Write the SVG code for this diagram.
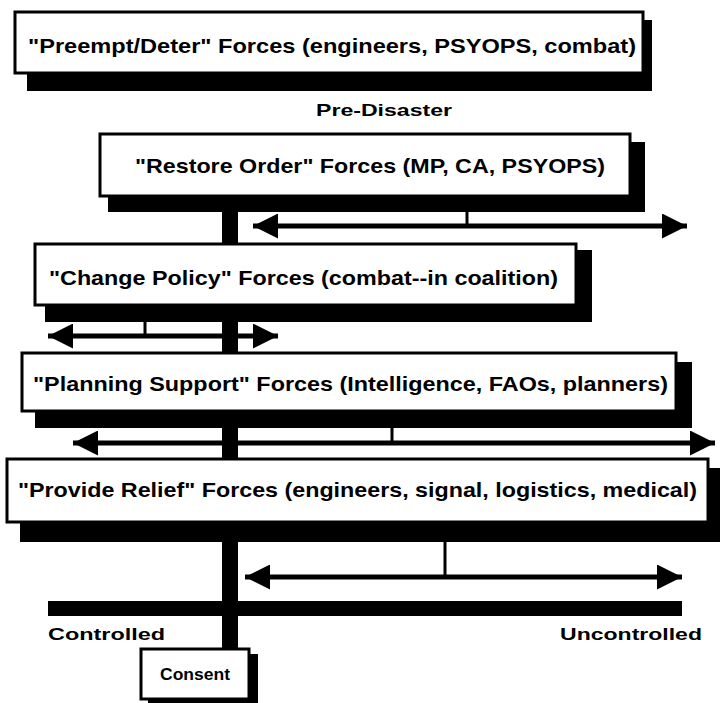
<svg xmlns="http://www.w3.org/2000/svg" width="720" height="703" viewBox="0 0 720 703">
<defs>
<style>
.shadow{fill:#000}
.box{fill:#fff;stroke:#000;stroke-width:3}
.t{font-family:"Liberation Sans",Arial,sans-serif;font-weight:bold;font-size:21px;fill:#000}
.lbl{font-family:"Liberation Sans",Arial,sans-serif;font-weight:bold;font-size:17px;fill:#000}
.ln{stroke:#000;stroke-width:5;fill:none}
.tick{stroke:#000;stroke-width:3;fill:none}
.trunk{fill:#000}
</style>
<marker id="ah" viewBox="0 0 25 25" refX="25" refY="12.5" markerWidth="25" markerHeight="25" markerUnits="userSpaceOnUse" orient="auto-start-reverse">
<path d="M0,0 L25,12.5 L0,25 Z" fill="#000"/>
</marker>
</defs>
<rect width="720" height="703" fill="#fff"/>
<g id="connectors">
<rect class="trunk" x="222" y="200" width="16" height="455"/>
<line class="ln" x1="253" y1="226" x2="687" y2="226" marker-start="url(#ah)" marker-end="url(#ah)"/>
<line class="tick" x1="467" y1="205" x2="467" y2="226"/>
<line class="ln" x1="48" y1="336" x2="278" y2="336" marker-start="url(#ah)" marker-end="url(#ah)"/>
<line class="tick" x1="145" y1="315" x2="145" y2="336"/>
<line class="ln" x1="73" y1="443" x2="715" y2="443" marker-start="url(#ah)" marker-end="url(#ah)"/>
<line class="tick" x1="392" y1="420" x2="392" y2="443"/>
<line class="ln" x1="245" y1="577" x2="682" y2="577" marker-start="url(#ah)" marker-end="url(#ah)"/>
<line class="tick" x1="445" y1="535" x2="445" y2="577"/>
<rect id="scale-bar" x="48" y="601" width="634" height="15" fill="#000"/>
</g>
<g id="preempt">
<rect class="shadow" x="27" y="20" width="625" height="71"/>
<rect class="box" x="15" y="12" width="628" height="61"/>
<text class="t" x="28" y="53" textLength="608" lengthAdjust="spacingAndGlyphs">"Preempt/Deter" Forces (engineers, PSYOPS, combat)</text>
</g>
<text id="pre-disaster" class="lbl" x="316" y="116" textLength="136" lengthAdjust="spacingAndGlyphs">Pre-Disaster</text>
<g id="restore">
<rect class="shadow" x="108" y="142" width="537" height="70"/>
<rect class="box" x="100" y="134" width="530" height="62"/>
<text class="t" x="135" y="173" textLength="470" lengthAdjust="spacingAndGlyphs">"Restore Order" Forces (MP, CA, PSYOPS)</text>
</g>
<g id="change">
<rect class="shadow" x="45" y="250" width="547" height="72"/>
<rect class="box" x="35" y="244" width="541" height="61"/>
<text class="t" x="49" y="285" textLength="509" lengthAdjust="spacingAndGlyphs">"Change Policy" Forces (combat--in coalition)</text>
</g>
<g id="planning">
<rect class="shadow" x="35" y="362" width="657" height="66"/>
<rect class="box" x="22" y="353" width="654" height="58"/>
<text class="t" x="33" y="391" textLength="635" lengthAdjust="spacingAndGlyphs">"Planning Support" Forces (Intelligence, FAOs, planners)</text>
</g>
<g id="relief">
<rect class="shadow" x="20" y="468" width="700" height="74"/>
<rect class="box" x="7" y="459" width="701" height="63"/>
<text class="t" x="18" y="497" textLength="679" lengthAdjust="spacingAndGlyphs">"Provide Relief" Forces (engineers, signal, logistics, medical)</text>
</g>
<text id="controlled" class="lbl" x="48" y="640" textLength="117" lengthAdjust="spacingAndGlyphs">Controlled</text>
<text id="uncontrolled" class="lbl" x="560" y="640" textLength="142" lengthAdjust="spacingAndGlyphs">Uncontrolled</text>
<g id="consent">
<rect class="shadow" x="148" y="654" width="110" height="49"/>
<rect class="box" x="141" y="649" width="108" height="50"/>
<text class="lbl" x="195" y="680" text-anchor="middle" textLength="70" lengthAdjust="spacingAndGlyphs">Consent</text>
</g>
</svg>
